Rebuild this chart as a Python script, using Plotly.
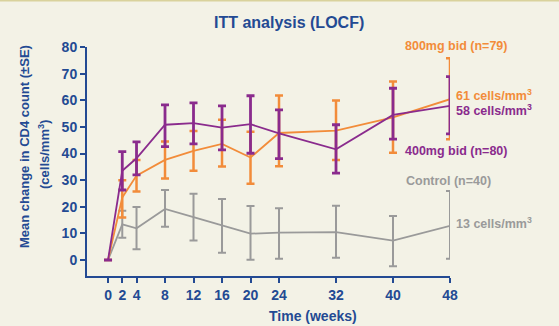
import plotly.graph_objects as go

weeks = [0, 2, 4, 8, 12, 16, 20, 24, 32, 40, 48]

high_mean = [0, 23.5, 31.7, 37.6, 41.0, 43.6, 38.5, 47.7, 48.6, 53.6, 60.4]
high_upper = [0, 30.0, 37.6, 44.5, 48.5, 52.7, 48.2, 61.8, 59.9, 67.0, 75.8]
high_lower = [0, 16.0, 25.7, 30.6, 33.5, 35.1, 28.6, 35.2, 37.6, 40.3, 45.4]

low_mean = [0, 33.5, 38.2, 50.8, 51.4, 49.7, 51.0, 47.6, 41.6, 54.5, 57.9]
low_upper = [0, 40.7, 44.4, 58.3, 59.0, 57.9, 61.7, 56.4, 50.8, 64.5, 68.9]
low_lower = [0, 26.3, 32.0, 42.6, 43.6, 41.4, 40.1, 38.1, 32.6, 45.4, 47.4]

ctrl_mean = [0, 13.4, 11.9, 19.2, 16.1, 12.9, 9.9, 10.3, 10.5, 7.3, 12.8]
ctrl_upper = [0, 18.5, 19.9, 26.3, 24.9, 22.9, 20.3, 19.4, 20.4, 16.5, 25.9]
ctrl_lower = [0, 8.4, 4.0, 12.5, 7.3, 2.7, 0.1, 0.5, 0.9, -2.3, 0.5]

x_ticks = [0, 2, 4, 8, 12, 16, 20, 24, 32, 40, 48]
y_ticks = [0, 10, 20, 30, 40, 50, 60, 70, 80]

BLUE = "#234a93"
ORANGE = "#f28c3a"
PURPLE = "#8a2b8d"
GRAY = "#9a9a9a"
BG = "#f3f2e6"
FONT = "Liberation Sans, Arial, sans-serif"

W, H = 559, 326
ML, MR, MT, MB = 87, 109, 47, 50


def series(mean, upper, lower, color, lw, ew):
    plus = [None if i == 0 else round(u - m, 2) for i, (u, m) in enumerate(zip(upper, mean))]
    minus = [None if i == 0 else round(m - l, 2) for i, (l, m) in enumerate(zip(lower, mean))]
    return go.Scatter(
        x=weeks, y=mean, mode="lines",
        line=dict(color=color, width=lw),
        error_y=dict(type="data", symmetric=False, array=plus, arrayminus=minus,
                     color=color, thickness=ew, width=4),
        showlegend=False, hoverinfo="skip",
    )


fig = go.Figure()
fig.add_trace(series(ctrl_mean, ctrl_upper, ctrl_lower, GRAY, 1.8, 2))
fig.add_trace(series(high_mean, high_upper, high_lower, ORANGE, 1.8, 2.5))
fig.add_trace(series(low_mean, low_upper, low_lower, PURPLE, 1.8, 2.8))

tickfont = dict(size=14, color=BLUE, family=FONT, weight="bold")
fig.update_layout(
    width=W, height=H,
    paper_bgcolor=BG, plot_bgcolor=BG,
    margin=dict(l=ML, r=MR, t=MT, b=MB),
    font=dict(family=FONT, color=BLUE),
    xaxis=dict(
        range=[-2.95, 48], tickvals=x_ticks,
        showgrid=False, zeroline=False, showline=True, linecolor=BLUE, linewidth=2,
        ticks="outside", ticklen=5, tickwidth=2, tickcolor=BLUE, tickfont=tickfont,
    ),
    yaxis=dict(
        range=[-6, 80], tickvals=y_ticks,
        showgrid=False, zeroline=False, showline=True, linecolor=BLUE, linewidth=2,
        ticks="outside", ticklen=5, tickwidth=2, tickcolor=BLUE, tickfont=tickfont,
    ),
)

ph = H - MT - MB
pw = W - ML - MR
fig.add_shape(type="rect", xref="paper", yref="paper",
              x0=-ML / pw - 0.1, x1=1 + MR / pw + 0.1,
              y0=1 + (MT - 1.5) / ph, y1=1 + (MT + 5) / ph,
              fillcolor="#d9d29c", line=dict(width=0), layer="below")


def pann(text, px, py, color, size=12.5, xanchor="left", angle=0):
    fig.add_annotation(
        text=text, xref="paper", yref="paper",
        x=(px - ML) / pw, y=1 - (py - MT) / ph,
        xanchor=xanchor, yanchor="middle", showarrow=False, textangle=angle,
        font=dict(family=FONT, size=size, color=color, weight="bold"),
    )

pann("ITT analysis (LOCF)", 289, 22, BLUE, size=16, xanchor="center")
pann("800mg bid (n=79)", 403, 46, ORANGE)
pann("61 cells/mm<sup>3</sup>", 454, 95, ORANGE)
pann("58 cells/mm<sup>3</sup>", 454, 110, PURPLE)
pann("400mg bid (n=80)", 403, 151, PURPLE)
pann("Control (n=40)", 404, 181, GRAY)
pann("13 cells/mm<sup>3</sup>", 454, 223, GRAY)
pann("Time (weeks)", 313, 316, BLUE, size=14, xanchor="center")
pann("Mean change in CD4 count (±SE)", 24, 147, BLUE, size=13, xanchor="center", angle=-90)
pann("(cells/mm<sup>3</sup>)", 44, 155, BLUE, size=13, xanchor="center", angle=-90)

fig.write_html("out.html", config={"displayModeBar": False},
               post_script="document.body.style.margin='0';document.body.style.background='%s';" % BG)
